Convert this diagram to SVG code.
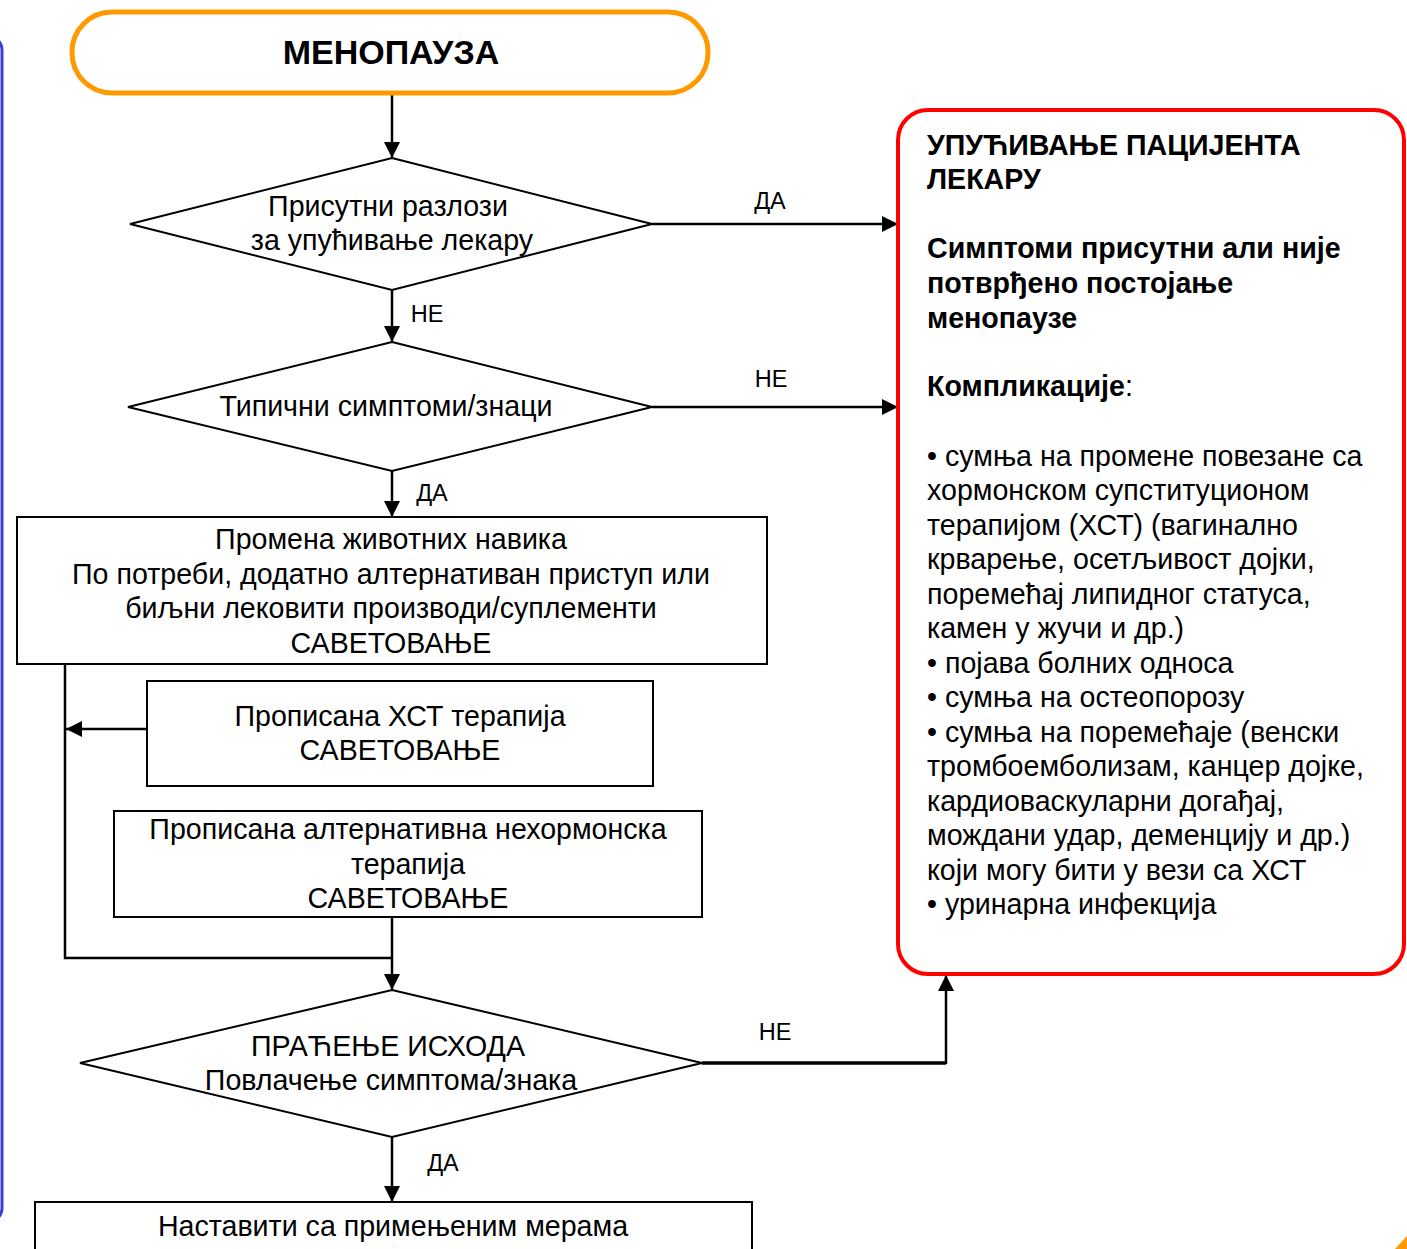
<svg xmlns="http://www.w3.org/2000/svg" width="1407" height="1249" viewBox="0 0 1407 1249">
<style>
text{font-family:"Liberation Sans",Arial,sans-serif;fill:#000}
.t{font-size:28.6px;text-anchor:middle}
.lbl{font-size:23.5px;text-anchor:middle}
.r{font-size:28.6px}
.b{font-weight:bold}
.shape{fill:#fff;stroke:#000;stroke-width:2}
.ln{fill:none;stroke:#000;stroke-width:2.5}
</style>
<defs>
<marker id="ah" viewBox="0 0 10 10" refX="10" refY="5" markerWidth="16" markerHeight="16" markerUnits="userSpaceOnUse" orient="auto">
<path d="M0,0 L10,5 L0,10 z" fill="#000"/>
</marker>
</defs>
<rect width="1407" height="1249" fill="#fff"/>
<rect x="-200" y="36" width="202" height="1186" rx="14" fill="none" stroke="#3c3cdc" stroke-width="3"/>
<polygon points="1395,1249 1407,1236 1407,1249" fill="#ff9900"/>

<g id="connectors">
<line class="ln" x1="392" y1="94" x2="392" y2="158" marker-end="url(#ah)"/>
<line class="ln" x1="652" y1="224" x2="898" y2="224" marker-end="url(#ah)"/>
<line class="ln" x1="392" y1="290" x2="392" y2="342" marker-end="url(#ah)"/>
<line class="ln" x1="652" y1="407" x2="898" y2="407" marker-end="url(#ah)"/>
<line class="ln" x1="392" y1="471" x2="392" y2="517" marker-end="url(#ah)"/>
<line class="ln" x1="147" y1="729" x2="66" y2="729" marker-end="url(#ah)"/>
<polyline class="ln" points="65,664 65,958 392,958"/>
<line class="ln" x1="392" y1="917" x2="392" y2="990" marker-end="url(#ah)"/>
<polyline class="ln" points="702,1063 946,1063" style="stroke-width:3.5"/>
<line class="ln" x1="946" y1="1064" x2="946" y2="975" marker-end="url(#ah)"/>
<line class="ln" x1="392" y1="1137" x2="392" y2="1202" marker-end="url(#ah)"/>
<text class="lbl" x="770" y="209">ДА</text>
<text class="lbl" x="427" y="322">НЕ</text>
<text class="lbl" x="771" y="387">НЕ</text>
<text class="lbl" x="432" y="501">ДА</text>
<text class="lbl" x="775" y="1040">НЕ</text>
<text class="lbl" x="443" y="1171">ДА</text>
</g>

<g id="start">
<rect x="72" y="12" width="636" height="81" rx="40" fill="#fff" stroke="#ff9900" stroke-width="5"/>
<text class="t b" x="391" y="64" style="font-size:34px">МЕНОПАУЗА</text>
</g>

<g id="d1">
<polygon class="shape" points="392,158 652,224 392,290 130,224"/>
<text class="t" x="388" y="216">Присутни разлози</text>
<text class="t" x="392" y="250">за упућивање лекару</text>
</g>

<g id="d2">
<polygon class="shape" points="392,342 652,407 392,471 128,407"/>
<text class="t" x="386" y="416">Типични симптоми/знаци</text>
</g>

<g id="box1">
<rect class="shape" x="17" y="517" width="750" height="147"/>
<text class="t" x="391" y="549">Промена животних навика</text>
<text class="t" x="391" y="584">По потреби, додатно алтернативан приступ или</text>
<text class="t" x="391" y="618">биљни лековити производи/суплементи</text>
<text class="t" x="391" y="653">САВЕТОВАЊЕ</text>
</g>

<g id="box2">
<rect class="shape" x="147" y="681" width="506" height="105"/>
<text class="t" x="400" y="726">Прописана ХСТ терапија</text>
<text class="t" x="400" y="760">САВЕТОВАЊЕ</text>
</g>

<g id="box3">
<rect class="shape" x="114" y="811" width="588" height="106"/>
<text class="t" x="408" y="839">Прописана алтернативна нехормонска</text>
<text class="t" x="408" y="874">терапија</text>
<text class="t" x="408" y="908">САВЕТОВАЊЕ</text>
</g>

<g id="d3">
<polygon class="shape" points="392,990 702,1063 392,1137 80,1063"/>
<text class="t" x="388" y="1056">ПРАЋЕЊЕ ИСХОДА</text>
<text class="t" x="391" y="1090">Повлачење симптома/знака</text>
</g>

<g id="box4">
<rect class="shape" x="35" y="1202" width="717" height="80"/>
<text class="t" x="393" y="1236">Наставити са примењеним мерама</text>
</g>

<g id="referral">
<rect x="898" y="110" width="506" height="864" rx="30" fill="#fff" stroke="#ff0000" stroke-width="4"/>
<text class="r b" x="927" y="155">УПУЋИВАЊЕ ПАЦИЈЕНТА</text>
<text class="r b" x="927" y="189">ЛЕКАРУ</text>
<text class="r b" x="927" y="258">Симптоми присутни али није</text>
<text class="r b" x="927" y="293">потврђено постојање</text>
<text class="r b" x="927" y="328">менопаузе</text>
<text class="r" x="927" y="396"><tspan class="b">Компликације</tspan>:</text>
<text class="r" x="927" y="466">• сумња на промене повезане са</text>
<text class="r" x="927" y="500">хормонском супституционом</text>
<text class="r" x="927" y="535">терапијом (ХСТ) (вагинално</text>
<text class="r" x="927" y="569">крварење, осетљивост дојки,</text>
<text class="r" x="927" y="604">поремећај липидног статуса,</text>
<text class="r" x="927" y="638">камен у жучи и др.)</text>
<text class="r" x="927" y="673">• појава болних односа</text>
<text class="r" x="927" y="707">• сумња на остеопорозу</text>
<text class="r" x="927" y="742">• сумња на поремећаје (венски</text>
<text class="r" x="927" y="776">тромбоемболизам, канцер дојке,</text>
<text class="r" x="927" y="811">кардиоваскуларни догађај,</text>
<text class="r" x="927" y="845">мождани удар, деменцију и др.)</text>
<text class="r" x="927" y="880">који могу бити у вези са ХСТ</text>
<text class="r" x="927" y="914">• уринарна инфекција</text>
</g>
</svg>
